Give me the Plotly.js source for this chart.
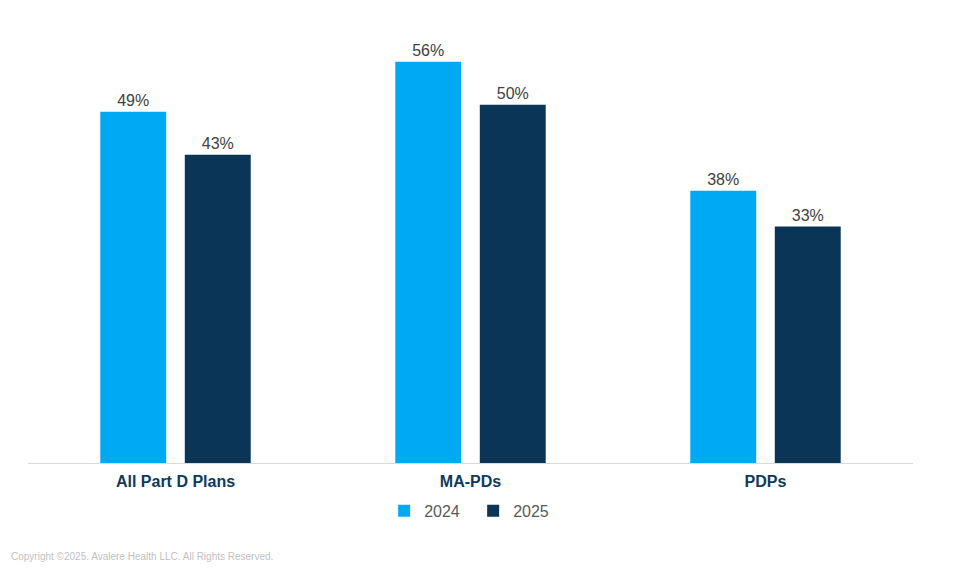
<!DOCTYPE html>
<html><head><meta charset="utf-8">
<script src="https://cdn.plot.ly/plotly-3.0.1.min.js"></script>
<style>body{margin:0;background:#fff}#c{width:960px;height:576px}</style>
</head><body><div id="c"></div>
<script>
const categories = ["All Part D Plans", "MA-PDs", "PDPs"];
const v2024 = [49, 56, 38];
const v2025 = [43, 50, 33];
const seriesNames = ["2024", "2025"];

const mk = (vals, name, color) => ({
  type: 'bar', x: categories, y: vals, name: name,
  marker: {color: color},
  text: vals.map(v => v + '%'), textposition: 'outside',
  textfont: {family: 'Liberation Sans, Arial', size: 16, color: '#404040'},
  cliponaxis: false, hoverinfo: 'none'
});

Plotly.newPlot('c', [
  mk(v2024, seriesNames[0], '#00A9F4'),
  mk(v2025, seriesNames[1], '#0A3556')
], {
  width: 960, height: 576,
  margin: {l: 28, r: 47, t: 33, b: 113},
  paper_bgcolor: '#fff', plot_bgcolor: '#fff',
  barmode: 'group', bargap: 0.427, bargroupgap: 0.22,
  xaxis: {showline: true, linecolor: '#D9D9D9', linewidth: 1, ticks: '', ticklabelstandoff: 4,
    tickfont: {family: 'Liberation Sans, Arial', size: 16, color: '#0E3A5C', weight: 'bold'},
    tickangle: 0},
  yaxis: {range: [0, 60], visible: false, showgrid: false, zeroline: false},
  showlegend: true,
  legend: {orientation: 'h', x: 0.503, xanchor: 'center', y: -0.072, yanchor: 'top',
    entrywidth: 44, entrywidthmode: 'pixels',
    font: {family: 'Liberation Sans, Arial', size: 16, color: '#595959'}, itemwidth: 30},
  annotations: [{text: 'Copyright ©2025. Avalere Health LLC. All Rights Reserved.', xref: 'paper', yref: 'paper',
    x: -0.021, y: -0.2186, xanchor: 'left', yanchor: 'middle', showarrow: false,
    font: {family: 'Liberation Sans, Arial', size: 10, color: '#BFBFBF'}}]
}, {displayModeBar: false, staticPlot: true});
</script></body></html>
